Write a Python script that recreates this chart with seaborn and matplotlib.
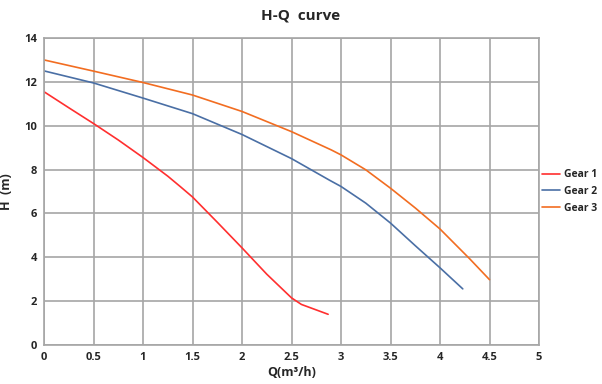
import numpy as np
import pandas as pd
import matplotlib
matplotlib.use("Agg")
import matplotlib.pyplot as plt
import seaborn as sns

# curve data
q_gear1 = [0, 0.25, 0.5, 0.75, 1, 1.25, 1.375, 1.5, 1.75, 2, 2.25, 2.5, 2.6, 2.75, 2.87]
h_gear1 = [11.55, 10.82, 10.1, 9.35, 8.55, 7.7, 7.23, 6.75, 5.6, 4.43, 3.23, 2.15, 1.85, 1.6, 1.4]

q_gear2 = [0, 0.5, 1, 1.5, 2, 2.5, 2.89, 3, 3.25, 3.5, 3.75, 4, 4.23]
h_gear2 = [12.5, 11.95, 11.26, 10.55, 9.6, 8.5, 7.5, 7.23, 6.47, 5.56, 4.53, 3.52, 2.56]

q_gear3 = [0, 0.5, 1, 1.5, 2, 2.5, 2.9, 3, 3.25, 3.5, 3.75, 4, 4.3, 4.5]
h_gear3 = [13.0, 12.49, 11.97, 11.4, 10.65, 9.73, 8.9, 8.67, 7.99, 7.15, 6.25, 5.29, 3.93, 2.98]

x_ticks = [0, 0.5, 1, 1.5, 2, 2.5, 3, 3.5, 4, 4.5, 5]
y_ticks = [0, 2, 4, 6, 8, 10, 12, 14]

df = pd.concat([
    pd.DataFrame({"Q": q_gear1, "H": h_gear1, "gear": "Gear 1"}),
    pd.DataFrame({"Q": q_gear2, "H": h_gear2, "gear": "Gear 2"}),
    pd.DataFrame({"Q": q_gear3, "H": h_gear3, "gear": "Gear 3"}),
])
colors = {"Gear 1": "#ff2f2f", "Gear 2": "#4a6fa5", "Gear 3": "#f26d21"}

sns.set_style("white")
plt.rcParams["font.family"] = ["Open Sans", "DejaVu Sans"]

fig, ax = plt.subplots(figsize=(6.02, 3.84), dpi=100)
fig.subplots_adjust(left=44/602, right=539/602, top=1-38/384, bottom=1-345/384)

sns.lineplot(data=df, x="Q", y="H", hue="gear", palette=colors, sort=False,
             estimator=None, linewidth=1.2, ax=ax)

ax.set_xlim(0, 5)
ax.set_ylim(0, 14)
ax.set_xticks(x_ticks)
ax.set_xticklabels([f"{t:g}" for t in x_ticks])
ax.set_yticks(y_ticks)
ax.grid(True, color="#a6a6a6", linewidth=1.2)
for s in ax.spines.values():
    s.set_color("#a6a6a6")
    s.set_linewidth(1.2)
ax.tick_params(axis="both", length=3, color="#a6a6a6", labelsize=8, pad=2)
for lab in ax.get_xticklabels() + ax.get_yticklabels():
    lab.set_fontweight("bold")

ax.set_xlabel("Q(m³/h)", fontsize=9, fontweight="bold", labelpad=2)
ax.set_ylabel("H  (m)", fontsize=9, fontweight="bold", labelpad=8)
fig.suptitle("H-Q  curve", x=301/602, y=1-15/384, va="center",
             fontsize=11, fontweight="bold")

ax.legend(loc="center left", bbox_to_anchor=(1.0, 0.5), frameon=False,
          handlelength=1.7, handletextpad=0.4, borderaxespad=0.0,
          borderpad=0.3, labelspacing=0.55, prop={"size": 7.5, "weight": "bold"})

fig.savefig("out.png", dpi=100)
